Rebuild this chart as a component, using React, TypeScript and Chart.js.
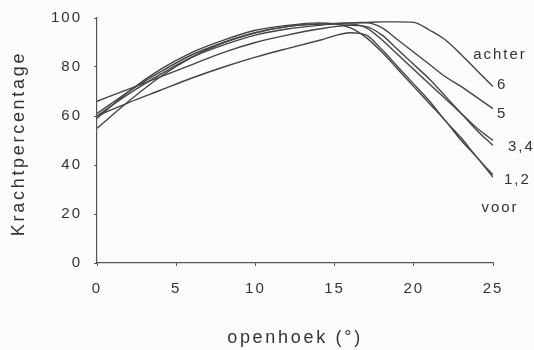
import React, { useEffect, useRef } from "react";
import { Chart, registerables } from "chart.js";

Chart.register(...registerables);

// openhoek (degrees)
const angles = [0, 2, 4, 6, 8, 10, 12, 14, 16, 17, 18, 19, 20, 21, 22, 23, 24, 25];

// Krachtpercentage per position
const pos1 = [59, 70, 79, 86, 91, 95, 97, 98, 96, 92, 86, 79, 72, 65, 58, 50, 43, 35];
const pos2 = [60, 65.5, 70.5, 75.5, 80, 84, 87.5, 90.8, 94, 93, 87, 80, 73, 66, 58, 51, 43, 36];
const pos3 = [61, 70, 78, 85, 90, 94, 96.5, 97.5, 97.5, 96, 91, 85, 79, 73, 67, 61, 55, 50];
const pos4 = [66, 71, 76, 81, 86, 90, 93, 95.5, 97, 96.5, 93, 87, 81, 75, 68, 61, 54, 48];
const pos5 = [60, 69, 77, 84, 89, 93, 95.5, 97, 98, 98, 96, 91, 86, 81, 76, 72, 67.5, 63];
const pos6 = [55, 66, 76, 84, 90, 94, 96.5, 97.5, 98, 98.2, 98.4, 98.4, 98.2, 95, 91, 85, 78.5, 72];

const xTicks = [0, 5, 10, 15, 20, 25];
const yTicks = [0, 20, 40, 60, 80, 100];

const endLabels = ["achter", "6", "5", "3,4", "1,2", "voor"];
const endLabelValues = [85, 72.6, 61, 47.3, 33.9, 22.4];

const xTitle = "openhoek (°)";
const yTitle = "Krachtpercentage";

const series = [pos1, pos2, pos3, pos4, pos5, pos6];

export default function App() {
  const ref = useRef<HTMLCanvasElement>(null);

  useEffect(() => {
    const canvas = ref.current;
    if (!canvas) return;
    const textColor = "#333333";
    const lineColor = "#444444";

    const spacingPlugin = {
      id: "spacing",
      beforeDraw(chart: any) {
        const ctx = chart.ctx;
        ctx.save();
        ctx.fillStyle = "#fcfcfa";
        ctx.fillRect(0, 0, chart.width, chart.height);
        ctx.restore();
        (ctx as any).letterSpacing = "2px";
      },
    };

    const labelPlugin = {
      id: "labels",
      afterDraw(chart: any) {
        const ctx = chart.ctx;
        const area = chart.chartArea;
        const ys = chart.scales.y;
        ctx.save();
        ctx.fillStyle = textColor;
        ctx.textBaseline = "middle";
        ctx.font = "15px 'Liberation Sans', Arial, sans-serif";
        (ctx as any).letterSpacing = "2px";
        const offsets = [7, 4, 4, 15, 11, 7];
        endLabels.forEach((t, i) => {
          const y = ys.getPixelForValue(endLabelValues[i]);
          const centered = i === 0 || i === endLabels.length - 1;
          ctx.textAlign = centered ? "center" : "left";
          ctx.fillText(t, area.right + offsets[i], y);
        });
        // axis titles
        ctx.font = "18px 'Liberation Sans', Arial, sans-serif";
        (ctx as any).letterSpacing = "2.7px";
        ctx.textAlign = "center";
        ctx.fillText(xTitle, (area.left + area.right) / 2, 338);
        ctx.translate(19, (area.top + area.bottom) / 2 + 3);
        ctx.rotate(-Math.PI / 2);
        ctx.fillText(yTitle, 0, 0);
        ctx.restore();
      },
    };

    const chart = new Chart(canvas, {
      type: "line",
      data: {
        datasets: series.map((s, i) => ({
          label: "pos" + (i + 1),
          data: angles.map((a, j) => ({ x: a, y: s[j] })),
          borderColor: lineColor,
          borderWidth: 1.4,
          pointRadius: 0,
          fill: false,
          cubicInterpolationMode: "monotone" as const,
        })),
      },
      options: {
        responsive: false,
        animation: false,
        devicePixelRatio: 1,
        layout: { padding: { left: 0, right: 41, top: 18, bottom: 0 } },
        plugins: { legend: { display: false }, tooltip: { enabled: false } },
        scales: {
          x: {
            type: "linear",
            min: 0,
            max: 25,
            afterBuildTicks(scale: any) {
              scale.ticks = xTicks.map((v) => ({ value: v }));
            },
            afterFit(scale: any) {
              scale.height = 87;
              scale.paddingLeft = 0;
              scale.paddingRight = 0;
            },
            border: { display: true, color: "#555", width: 1.2 },
            grid: { display: true, drawOnChartArea: false, drawTicks: true, tickLength: 3, color: "#555" },
            ticks: {
              color: textColor,
              padding: 14,
              font: { size: 15, family: "'Liberation Sans', Arial, sans-serif" },
              maxRotation: 0,
            },
          },
          y: {
            type: "linear",
            min: 0,
            max: 100,
            afterBuildTicks(scale: any) {
              scale.ticks = yTicks.map((v) => ({ value: v }));
            },
            afterFit(scale: any) {
              scale.width = 97;
              scale.paddingTop = 0;
              scale.paddingBottom = 0;
            },
            border: { display: true, color: "#555", width: 1.2 },
            grid: { display: true, drawOnChartArea: false, drawTicks: true, tickLength: 3, color: "#555" },
            ticks: {
              color: textColor,
              padding: 12,
              font: { size: 15, family: "'Liberation Sans', Arial, sans-serif" },
            },
          },
        },
      },
      plugins: [spacingPlugin, labelPlugin],
    });
    return () => chart.destroy();
  }, []);

  return (
    <div style={{ position: "fixed", left: 0, top: 0, width: 534, height: 350, background: "#fcfcfa" }}>
      <canvas ref={ref} width={534} height={350} style={{ width: 534, height: 350, display: "block" }} />
    </div>
  );
}
